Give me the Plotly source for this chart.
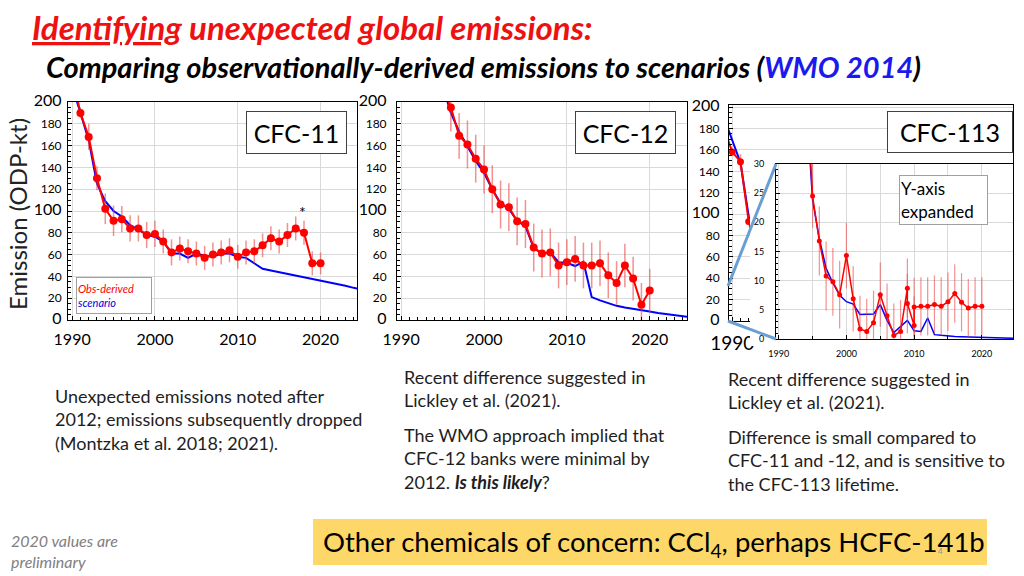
import plotly.graph_objects as go

# ---------------- data ----------------
years_11 = list(range(1990, 2021))
obs_11 = [225, 190, 168, 130, 102, 91, 92.5, 84, 84, 78,
          79, 72, 62, 65.5, 63, 61, 57, 60, 62, 64,
          58, 62, 63, 68.5, 75, 72, 78, 84, 80, 52, 52]
err_11 = [0, 5, 12, 11, 14, 14, 12, 12, 12, 12,
          12, 11, 12, 11, 11, 11, 11, 11, 11, 11,
          11, 11, 11, 11, 11, 11, 11, 11, 11, 11, 10]
scn_years_11 = list(range(1990, 2026))
scn_11 = [215, 190, 165, 125, 109, 100, 95, 87, 83, 78,
          76.5, 72, 61, 61, 57, 61, 59, 58, 61, 61,
          58, 57, 52, 47, 45.5, 44, 42.5, 41, 39.5, 38,
          36.5, 35, 33, 31.5, 29.5, 28]

years_12 = list(range(1995, 2021))
obs_12 = [212, 195, 169, 161, 148, 138, 120, 106, 103.5, 90.5,
          88, 66.5, 61, 62, 50, 53, 56, 50, 50, 52,
          41, 34, 50, 38, 14, 27]
err_12 = [0, 22, 21, 22, 22, 22, 22, 22, 22, 22,
          22, 22, 22, 22, 21, 21, 21, 21, 21, 21,
          21, 20, 20, 20, 20, 20]
scn_years_12 = list(range(1995, 2026))
scn_12 = [215, 190, 173, 160, 146, 135, 120, 107, 102, 91,
          86, 66, 61, 62, 53, 52.5, 49.5, 53.5, 21, 18,
          15.5, 13, 11.5, 10, 8.8, 7.7, 6.5, 5.3, 4.3, 3.3, 2.5]

years_113 = [1989, 1990, 1991, 1992, 1993, 1994, 1995, 1996, 1997, 1998,
             1999, 2000, 2001, 2002, 2003, 2004, 2005, 2006, 2007, 2008,
             2009, 2009, 2010, 2010, 2011, 2012, 2013, 2014, 2015, 2016,
             2017, 2018, 2019, 2020]
obs_113 = [180, 158, 149, 93, 66, 46, 24.5, 16.8, 10.8, 9.8,
           7.6, 14.3, 6.9, 1.7, 1.3, 2.8, 7.6, 4.0, 0.6, 1.3,
           8.7, 6.1, 2.3, 5.5, 5.6, 5.6, 5.9, 5.6, 6.4, 7.8,
           6.3, 5.3, 5.6, 5.6]
err_113 = [0, 3, 7, 3, 0, 0, 5.5, 5.9, 5.9, 5.8,
           5.8, 5.6, 5.6, 5.7, 5.6, 5.5, 5.5, 5.5, 5.5, 5.4,
           5.1, 5.1, 5.0, 5.0, 5.0, 5.0, 5.0, 5.0, 5.0, 5.0,
           5.0, 5.0, 5.0, 5.0]
scn_years_113 = list(range(1989, 2026))
scn_113 = [190, 168, 148, 98, 70, 42, 23.8, 17.2, 12.1, 9.6,
           7.5, 6.4, 6.0, 4.2, 4.2, 4.3, 5.9, 3.2, 1.1, 2.2,
           3.2, 1.4, 1.3, 3.6, 0.75, 0.63, 0.5, 0.45, 0.4, 0.35,
           0.3, 0.25, 0.2, 0.17, 0.14, 0.12, 0.1]

main_yticks = list(range(0, 201, 20))
inset_yticks = list(range(0, 31, 5))

# ---------------- helpers ----------------
W, H = 1024, 576


def px(x):
    return x / W


def py(y):
    return 1 - y / H


def dx(a, b):
    return [a / W, b / W]


def dy(top, bottom):
    return [1 - bottom / H, 1 - top / H]


RED = "#ff0000"
BLUE = "#0000ff"
ERR = "rgba(235,70,70,0.6)"
GRID = "#d9d9d9"
FONT = "Lato"

fig = go.Figure()


def add_panel(xs, ys, errs, sx, sy, xa, ya, msize=8, lw=2, bw=2, eth=1.5):
    fig.add_trace(go.Scatter(x=sx, y=sy, mode="lines", line=dict(color=BLUE, width=bw),
                             xaxis=xa, yaxis=ya, hoverinfo="skip"))
    fig.add_trace(go.Scatter(x=xs, y=ys, mode="lines+markers",
                             line=dict(color=RED, width=lw),
                             marker=dict(color=RED, size=msize),
                             error_y=dict(type="data", array=errs, color=ERR,
                                          thickness=eth, width=0),
                             xaxis=xa, yaxis=ya, hoverinfo="skip"))


add_panel(years_11, obs_11, err_11, scn_years_11, scn_11, "x", "y")
add_panel(years_12, obs_12, err_12, scn_years_12, scn_12, "x2", "y2")
add_panel(years_113, obs_113, err_113, scn_years_113, scn_113, "x3", "y3", msize=7)
# blank white patch subplot (crop of the original main CFC-113 figure)
fig.add_trace(go.Scatter(x=[0.5], y=[0.5], mode="markers", marker=dict(size=1, opacity=0),
                         xaxis="x4", yaxis="y4", hoverinfo="skip"))
# inset
add_panel(years_113, obs_113, err_113, scn_years_113, scn_113, "x5", "y5",
          msize=5, lw=1.5, bw=1.5, eth=1.2)


def ytext(v, big=16):
    if v in (0, 100, 200):
        return f"<span style='font-size:{big}px'>{v}</span>"
    return str(v)


base_x = dict(showline=True, linecolor="black", linewidth=1, mirror=True,
              showgrid=True, gridcolor=GRID, zeroline=False, automargin=False,
              ticks="inside", ticklen=4, tickcolor="black",
              tickmode="linear", tick0=1990, dtick=10,
              minor=dict(ticks="inside", ticklen=3, dtick=1, tick0=1990, tickcolor="black"),
              tickfont=dict(size=16, family=FONT, color="black"), ticklabelstandoff=5)
base_y = dict(showline=True, linecolor="black", linewidth=1, mirror=True,
              showgrid=True, gridcolor=GRID, zeroline=False, automargin=False,
              ticks="inside", ticklen=4, tickcolor="black",
              tickmode="array", tickvals=main_yticks,
              ticktext=[ytext(v) for v in main_yticks],
              minor=dict(ticks="inside", ticklen=3, tickmode="linear", tick0=0, dtick=5,
                         tickcolor="black"),
              tickfont=dict(size=12, family=FONT, color="black"), ticklabelstandoff=3)

fig.update_layout(
    width=W, height=H, margin=dict(l=0, r=0, t=0, b=0, autoexpand=False),
    paper_bgcolor="white", plot_bgcolor="white", showlegend=False,
    font=dict(family=FONT, color="black"),
    xaxis=dict(base_x, domain=dx(68, 357), range=[1989.5, 2024.4], anchor="y"),
    yaxis=dict(base_y, domain=dy(102, 320), range=[0, 200], anchor="x"),
    xaxis2=dict(base_x, domain=dx(397, 687), range=[1989.5, 2024.5], anchor="y2"),
    yaxis2=dict(base_y, domain=dy(102, 320), range=[0, 200], anchor="x2",
                ticklabelstandoff=7),
    xaxis3=dict(base_x, domain=dx(729, 1013), range=[1989.6, 2024.2], anchor="y3",
                tickmode="array", tickvals=[1990], ticktext=["1990"],
                tickfont=dict(size=19, family=FONT, color="black")),
    yaxis3=dict(base_y, domain=dy(105, 321), range=[0, 202], anchor="x3",
                ticklabelstandoff=6),
    xaxis4=dict(domain=dx(750, 776), range=[0, 1], visible=False, anchor="y4",
                automargin=False),
    yaxis4=dict(domain=dy(168, 346), range=[0, 1], visible=False, anchor="x4",
                automargin=False),
    xaxis5=dict(base_x, domain=dx(776, 1013), range=[1989.6, 2024.6], anchor="y5",
                minor=dict(ticks="inside", ticklen=3, dtick=5, tick0=1990,
                           tickcolor="black", showgrid=True, gridcolor=GRID),
                tickfont=dict(size=9, family=FONT, color="black"), ticklabelstandoff=6),
    yaxis5=dict(base_y, domain=dy(164, 339), range=[0, 30], anchor="x5",
                tickvals=inset_yticks, ticktext=[str(v) for v in inset_yticks],
                minor=dict(ticks="inside", ticklen=2, tickmode="linear", tick0=0, dtick=1,
                           tickcolor="black"),
                tickfont=dict(size=9, family=FONT, color="black"), ticklabelstandoff=9),
)

# ---------------- shapes ----------------
shapes = [
    dict(type="rect", xref="paper", yref="paper", x0=px(313), x1=px(987),
         y0=py(565), y1=py(519), fillcolor="#fdd868", line=dict(width=0), layer="below"),
    dict(type="line", xref="paper", yref="paper", x0=px(728), y0=py(321),
         x1=px(776), y1=py(339), line=dict(color="#6a9fd2", width=3), layer="above"),
    dict(type="line", xref="paper", yref="paper", x0=px(728), y0=py(286),
         x1=px(776), y1=py(164), line=dict(color="#6a9fd2", width=3), layer="above"),
]
fig.update_layout(shapes=shapes)

# ---------------- annotations ----------------
ann = []


def text(x, y, s, size, color="black", xanchor="left", yanchor="middle", align="left", **kw):
    ann.append(dict(x=px(x), y=py(y), xref="paper", yref="paper", text=s, showarrow=False,
                    xanchor=xanchor, yanchor=yanchor, align=align,
                    font=dict(family=FONT, size=size, color=color), **kw))


text(30, 27, "<b><i><u>Identifying</u> unexpected global emissions:</i></b>", 33, color="#ee1111")
text(44, 66, "<b><i>Comparing observationally-derived emissions to scenarios "
             "(<span style='color:#1a1aee'>WMO 2014</span>)</i></b>", 29)

text(17, 214, "Emission (ODP-kt)", 24, color="#222222", xanchor="center", textangle=-90)


def box(cx, cy, s, size, w, h, bcolor="#404040", align="center"):
    ann.append(dict(x=px(cx), y=py(cy), xref="paper", yref="paper", text=s, showarrow=False,
                    xanchor="center", yanchor="middle", align=align, width=w, height=h,
                    bgcolor="white", bordercolor=bcolor, borderwidth=1, borderpad=1,
                    font=dict(family=FONT, size=size, color="black")))


box(296.5, 132.5, "CFC-11", 25, 97, 39)
box(625.5, 132.5, "CFC-12", 25, 97, 39)
box(950, 132, "CFC-113", 25, 122, 38)
box(943.5, 200, "Y-axis<br>expanded", 17, 85, 46, bcolor="#a0a0a0", align="left")
box(113.5, 295.5, "<i><span style='color:#ff0000'>Obs-derived</span><br>"
                  "<span style='color:#0000dd'>scenario</span></i>", 11, 72, 33,
    bcolor="#a0a0a0", align="left")

text(302, 211, "*", 16, xanchor="center")

TXT = "#1e1e1e"
text(53, 419, "Unexpected emissions noted after<br>2012; emissions subsequently dropped<br>"
              "(Montzka et al. 2018; 2021).", 18, color=TXT)
text(402, 388, "Recent difference suggested in<br>Lickley et al. (2021).", 18, color=TXT)
text(402, 458, "The WMO approach implied that<br>CFC-12 banks were minimal by<br>"
               "2012. <b><i>Is this likely</i></b>?", 18, color=TXT)
text(726, 390, "Recent difference suggested in<br>Lickley et al. (2021).", 18, color=TXT)
text(726, 460, "Difference is small compared to<br>CFC-11 and -12, and is sensitive to<br>"
               "the CFC-113 lifetime.", 18, color=TXT)
text(9, 551, "<i>2020 values are<br>preliminary</i>", 16, color="#808080")
text(321, 543, "Other chemicals of concern: CCl<sub>4</sub>, perhaps HCFC-141b", 27.5)
text(940, 551, "4", 8, color="#909090", xanchor="center")

fig.update_layout(annotations=ann)

fig.write_html("out.html", config={"displayModeBar": False},
               post_script="document.body.style.margin='0';"
                           "document.documentElement.style.overflow='hidden';")
